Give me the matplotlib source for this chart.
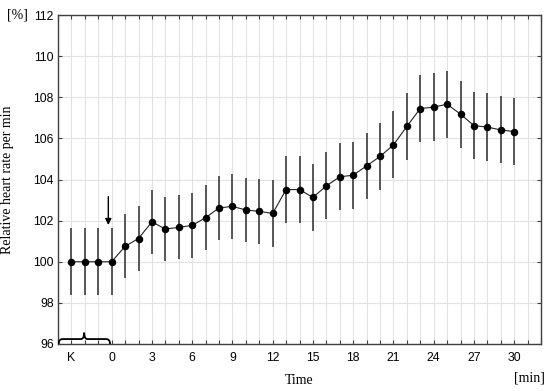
import numpy as np
import matplotlib
matplotlib.use("Agg")
import matplotlib.pyplot as plt
from matplotlib.path import Path
from matplotlib.patches import PathPatch

# minutes, K control points at -3..-1, then 0..30
minutos = list(range(-3, 31))
fc = [100.0, 100.0, 100.0, 100.0,
      100.75, 101.13, 101.94, 101.59, 101.67, 101.77, 102.14, 102.62, 102.69, 102.52,
      102.45, 102.35, 103.51, 103.51, 103.13, 103.69, 104.13, 104.21, 104.66, 105.12,
      105.68, 106.58, 107.45, 107.52, 107.66, 107.18, 106.62, 106.55, 106.41, 106.33]
sd = [1.63, 1.63, 1.63, 1.63,
      1.56, 1.57, 1.56, 1.56, 1.56, 1.57, 1.57, 1.56, 1.56, 1.56,
      1.57, 1.62, 1.64, 1.64, 1.63, 1.63, 1.63, 1.63, 1.62, 1.61,
      1.63, 1.63, 1.63, 1.64, 1.64, 1.63, 1.63, 1.64, 1.63, 1.64]

xt_pos = [-3, 0, 3, 6, 9, 12, 15, 18, 21, 24, 27, 30]
xt_lab = ["K", "0", "3", "6", "9", "12", "15", "18", "21", "24", "27", "30"]
yt = [96, 98, 100, 102, 104, 106, 108, 110, 112]

sans = "Liberation Sans"
serif = "Liberation Serif"

fig = plt.figure(figsize=(5.5, 3.91), dpi=100)
ax = fig.add_axes([58/550, 1 - 344/391, (541 - 58)/550, (344 - 15)/391])

ax.set_xlim(-4, 32)
ax.set_ylim(96, 112)

# grid
ax.set_xticks(range(-4, 33))
ax.set_xticklabels([xt_lab[xt_pos.index(v)] if v in xt_pos else "" for v in range(-4, 33)],
                   fontfamily=sans, fontsize=8.8)
ax.set_yticks(yt)
ax.set_yticklabels([str(v) for v in yt], fontfamily=sans, fontsize=8.8)
ax.grid(True, color="#e3e3e3", linewidth=0.8)
ax.set_axisbelow(True)
ax.tick_params(direction="in", length=3, width=0.8, color="#404040",
               top=True, right=True, labelcolor="black")
ax.tick_params(axis="x", pad=6)
ax.tick_params(axis="y", pad=3)
for s in ax.spines.values():
    s.set_color("#404040")
    s.set_linewidth(1.0)

ax.errorbar(minutos, fc, yerr=sd, fmt="none", ecolor="#4a4a4a", elinewidth=1.3, capsize=0, zorder=2)
ax.plot(minutos, fc, color="#222222", linewidth=0.8, zorder=3)
ax.plot(minutos, fc, "o", color="black", markersize=4.4, zorder=4)

# arrow at start
ax.annotate("", xy=(-0.25, 101.65), xytext=(-0.25, 103.3),
            arrowprops=dict(arrowstyle="-|>", color="black", lw=1.0, mutation_scale=9))

# brace over K period
x0, x1, xc = -3.95, -0.12, -2.05
yb, ym, yp = 96.0, 96.24, 96.55
verts = [(x0, yb), (x0, ym), (x0 + 0.3, ym),
         (xc - 0.25, ym), (xc, ym), (xc, yp),
         (xc, ym), (xc + 0.25, ym),
         (x1 - 0.3, ym), (x1, ym), (x1, yb)]
codes = [Path.MOVETO, Path.CURVE3, Path.CURVE3,
         Path.LINETO, Path.CURVE3, Path.CURVE3,
         Path.CURVE3, Path.CURVE3,
         Path.LINETO, Path.CURVE3, Path.CURVE3]
ax.add_patch(PathPatch(Path(verts, codes), facecolor="none", edgecolor="black", lw=1.3, zorder=5))

ax.set_ylabel("Relative heart rate per min", fontfamily=serif, fontsize=10, labelpad=14)
ax.set_xlabel("Time", fontfamily=serif, fontsize=10, labelpad=7)
fig.text(7/550, 1 - 15/391, "[%]", fontfamily=serif, fontsize=10, ha="left", va="center")
fig.text(545/550, 1 - 378/391, "[min]", fontfamily=serif, fontsize=10, ha="right", va="center")

fig.savefig("out.png", dpi=100)
